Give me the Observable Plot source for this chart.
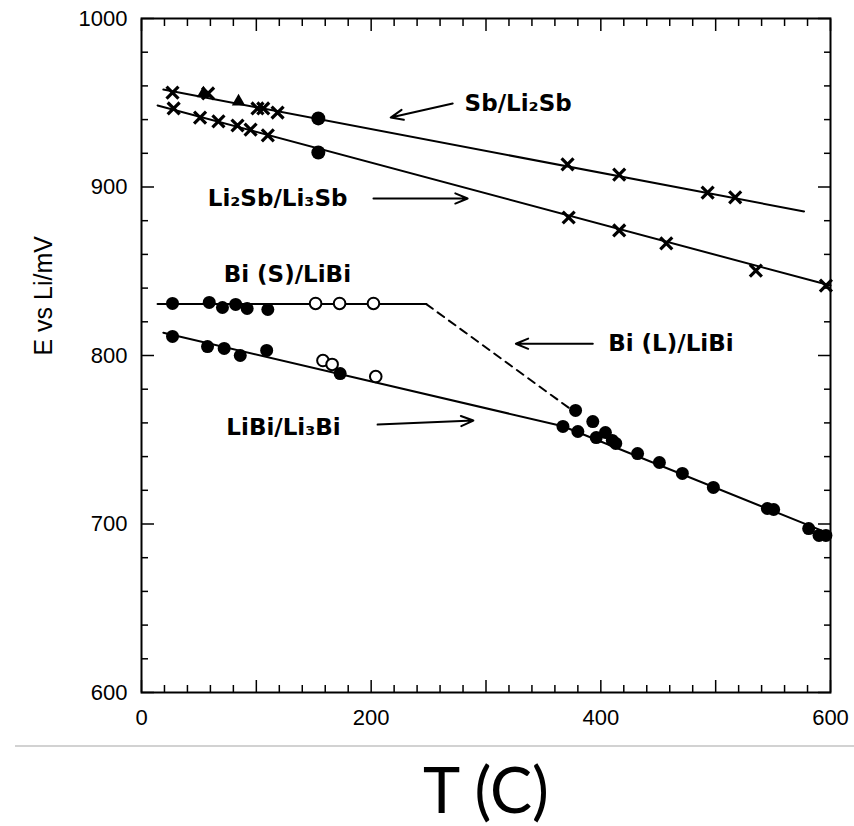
<!DOCTYPE html>
<html><head><meta charset="utf-8">
<script src="https://cdn.jsdelivr.net/npm/d3@7"></script>
<script src="https://cdn.jsdelivr.net/npm/@observablehq/plot@0.6"></script>
<style>
body{margin:0;background:#fff;}
#wrap{position:relative;width:854px;height:826px;background:#fff;}
#edge{position:absolute;left:15px;top:745px;width:839px;height:2px;background:#d2d2d2;}
#xlabel{position:absolute;left:486px;top:757px;transform:translateX(-50%);font-family:Lato,"Open Sans",sans-serif;font-size:63px;line-height:63px;color:#000;white-space:nowrap;}
</style></head>
<body>
<div id="wrap"><div id="chart"></div><div id="edge"></div><div id="xlabel">T (C)</div></div>
<script>
// ---- data (T in °C, E in mV) ----
const sbT = [27, 58, 101, 106, 118.5, 371, 416, 493, 517];
const sbE = [956, 955.5, 946.6, 946.6, 944.2, 913.4, 907.4, 896.7, 893.8];
const sbTriT = [54, 84.5];
const sbTriE = [955.5, 950.7];
const li2sbT = [28, 51, 67, 83.6, 95, 110, 372, 416, 457, 535, 596];
const li2sbE = [946.6, 941.2, 938.9, 936.5, 934, 930.6, 881.9, 874.2, 866.5, 850.4, 841.5];
const sbCircT = [154, 154];
const sbCircE = [940.7, 920.5];
const biSFilledT = [27, 59, 70.5, 82, 92, 110];
const biSFilledE = [830.9, 831.5, 828.5, 830.3, 827.9, 827.3];
const biSOpenT = [151.6, 172.5, 202];
const biSOpenE = [830.9, 830.9, 830.9];
const libiFilledT = [27, 57.5, 72, 86, 109, 173, 367, 378, 393, 380, 396, 404, 410, 413, 432, 451, 471, 498, 545, 550.5, 581, 590, 596];
const libiFilledE = [811.3, 805.3, 804.2, 800, 803, 789.3, 757.9, 767.4, 760.8, 754.9, 751.3, 754.3, 749.6, 747.8, 741.8, 736.5, 730, 721.7, 709.2, 708.6, 697.3, 693.2, 693.2];
const libiOpenT = [158, 166, 204];
const libiOpenE = [797, 794.7, 787.5];
// fitted lines
const sbFitT = [19, 577];
const sbFitE = [957.8, 885.5];
const li2sbFitT = [14, 600];
const li2sbFitE = [948.4, 841.5];
const biSFitT = [14, 248];
const biSFitE = [830.5, 830.5];
const biLFitT = [248, 372];
const biLFitE = [830.5, 769];
const libiFitT = [19, 367, 600];
const libiFitE = [813.5, 758, 694];
// annotations
const annoLabels = ["Sb/Li\u2082Sb", "Li\u2082Sb/Li\u2083Sb", "Bi (S)/LiBi", "Bi (L)/LiBi", "LiBi/Li\u2083Bi"];
const annoT = [328, 118.5, 127, 461, 123.7];
const annoE = [949.6, 893.2, 848, 807, 757.3];
const arrowT1 = [271, 202, 393, 205.6];
const arrowE1 = [949.6, 893.2, 807, 759];
const arrowT2 = [217, 284, 326, 289];
const arrowE2 = [941.2, 893.2, 807, 761.4];
// ticks
const xMajorTicks = [0, 100, 200, 300, 400, 500, 600];
const xMinorTicks = [20, 40, 60, 80, 120, 140, 160, 180, 220, 240, 260, 280, 320, 340, 360, 380, 420, 440, 460, 480, 520, 540, 560, 580];
const xTickLabels = [0, 200, 400, 600];
const yMajorTicks = [600, 700, 800, 900, 1000];
const yMinorTicks = [620, 640, 660, 680, 720, 740, 760, 780, 820, 840, 860, 880, 920, 940, 960, 980];
const yTickLabels = [600, 700, 800, 900, 1000];
const yTitle = "E vs Li/mV";

const pts = (T, E) => T.map((t, i) => ({T: t, E: E[i]}));
const none = () => "";

const chart = Plot.plot({
  width: 854, height: 746,
  marginLeft: 141, marginRight: 24, marginTop: 18, marginBottom: 54,
  style: {fontFamily: "'Liberation Sans', Arial, sans-serif", background: "#fff", color: "#000"},
  x: {domain: [0, 600]},
  y: {domain: [600, 1000]},
  marks: [
    // ticks, inward on all four sides
    Plot.axisX(xMinorTicks, {anchor: "bottom", tickSize: -7, tickFormat: none, label: null, strokeWidth: 1.5}),
    Plot.axisX(xMajorTicks, {anchor: "bottom", tickSize: -12, tickFormat: none, label: null, strokeWidth: 1.5}),
    Plot.axisX(xMinorTicks, {anchor: "top", tickSize: -7, tickFormat: none, label: null, strokeWidth: 1.5}),
    Plot.axisX(xMajorTicks, {anchor: "top", tickSize: -12, tickFormat: none, label: null, strokeWidth: 1.5}),
    Plot.axisY(yMinorTicks, {anchor: "left", tickSize: -7, tickFormat: none, label: null, strokeWidth: 1.5}),
    Plot.axisY(yMajorTicks, {anchor: "left", tickSize: -13, tickFormat: none, label: null, strokeWidth: 1.5}),
    Plot.axisY(yMinorTicks, {anchor: "right", tickSize: -7, tickFormat: none, label: null, strokeWidth: 1.5}),
    Plot.axisY(yMajorTicks, {anchor: "right", tickSize: -13, tickFormat: none, label: null, strokeWidth: 1.5}),
    // tick labels
    Plot.axisX(xTickLabels, {anchor: "bottom", tickSize: 0, tickPadding: 17, fontSize: 22, label: null, tickFormat: d => String(d)}),
    Plot.axisY(yTickLabels, {anchor: "left", tickSize: 0, tickPadding: 14, fontSize: 22, label: null, tickFormat: d => String(d)}),
    Plot.text([yTitle], {frameAnchor: "left", dx: -98, rotate: -90, text: d => d, fontSize: 25}),
    Plot.frame({strokeWidth: 2}),
    // fit lines
    Plot.line(pts(sbFitT, sbFitE), {x: "T", y: "E", strokeWidth: 2}),
    Plot.line(pts(li2sbFitT, li2sbFitE), {x: "T", y: "E", strokeWidth: 2}),
    Plot.line(pts(biSFitT, biSFitE), {x: "T", y: "E", strokeWidth: 2}),
    Plot.line(pts(biLFitT, biLFitE), {x: "T", y: "E", strokeWidth: 2, strokeDasharray: "8,6"}),
    Plot.line(pts(libiFitT, libiFitE), {x: "T", y: "E", strokeWidth: 2}),
    // points
    Plot.dot(pts(sbT, sbE), {x: "T", y: "E", symbol: "times", r: 5.5, stroke: "#000", strokeWidth: 3.2}),
    Plot.dot(pts(li2sbT, li2sbE), {x: "T", y: "E", symbol: "times", r: 5.5, stroke: "#000", strokeWidth: 3.2}),
    Plot.dot(pts(sbTriT, sbTriE), {x: "T", y: "E", symbol: "triangle", r: 5, fill: "#000"}),
    Plot.dot(pts(sbCircT, sbCircE), {x: "T", y: "E", r: 7, fill: "#000"}),
    Plot.dot(pts(biSFilledT, biSFilledE), {x: "T", y: "E", r: 6.5, fill: "#000"}),
    Plot.dot(pts(libiFilledT, libiFilledE), {x: "T", y: "E", r: 6.5, fill: "#000"}),
    Plot.dot(pts(biSOpenT, biSOpenE), {x: "T", y: "E", r: 5.8, fill: "#fff", stroke: "#000", strokeWidth: 2}),
    Plot.dot(pts(libiOpenT, libiOpenE), {x: "T", y: "E", r: 5.8, fill: "#fff", stroke: "#000", strokeWidth: 2}),
    // annotations
    Plot.arrow(arrowT1.map((t, i) => ({x1: t, y1: arrowE1[i], x2: arrowT2[i], y2: arrowE2[i]})),
      {x1: "x1", y1: "y1", x2: "x2", y2: "y2", strokeWidth: 2, headLength: 10, headAngle: 45}),
    Plot.text(annoLabels.map((s, i) => ({s, T: annoT[i], E: annoE[i]})),
      {x: "T", y: "E", text: "s", fontSize: 23, fontWeight: "bold", fontFamily: "'DejaVu Sans', sans-serif"})
  ]
});
document.getElementById("chart").appendChild(chart);
</script>
</body></html>
